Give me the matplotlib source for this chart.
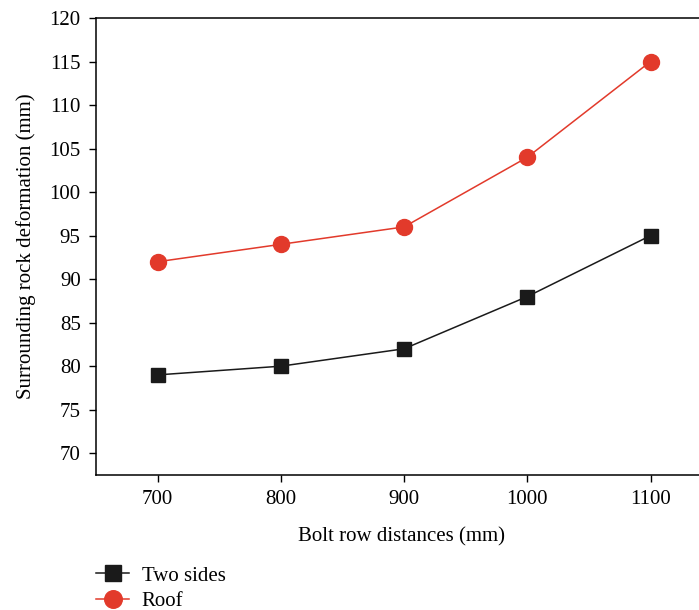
import numpy as np
import matplotlib.pyplot as plt

plt.rcParams['font.family'] = ['Liberation Serif', 'DejaVu Serif']

# Bolt row distance vs. deformation
distances = [700, 800, 900, 1000, 1100]
two_sides = [79, 80, 82, 88, 95]
roof = [92, 94, 96, 104, 115]

fig = plt.figure(figsize=(6.99, 6.10), dpi=100)
ax = fig.add_axes([96 / 699, 1 - 475 / 610, (706 - 96) / 699, (475 - 18) / 610])

ax.plot(distances, two_sides, color='#1a1a1a', lw=1.1, marker='s', ms=10,
        label='Two sides')
ax.plot(distances, roof, color='#e23a2b', lw=1.1, marker='o', ms=11.5,
        label='Roof')

ax.set_xlim(650, 1145)
ax.set_ylim(67.5, 120)
ax.set_xticks(distances)
ax.set_yticks(np.arange(70, 121, 5))
ax.tick_params(labelsize=15, direction='out', length=5, width=1, pad=6)
for s in ax.spines.values():
    s.set_linewidth(1.1)
ax.spines['right'].set_visible(False)

ax.set_xlabel('Bolt row distances (mm)', fontsize=15, labelpad=13)
ax.set_ylabel('Surrounding rock deformation (mm)', fontsize=15, labelpad=10)

fig.legend(loc='upper left', bbox_to_anchor=(96 / 699, 1 - 566 / 610), frameon=False,
           fontsize=15, handlelength=1.6, handletextpad=0.6, labelspacing=0.28,
           borderaxespad=0, borderpad=0, markerscale=1.1)

fig.savefig('out.png', dpi=100)
